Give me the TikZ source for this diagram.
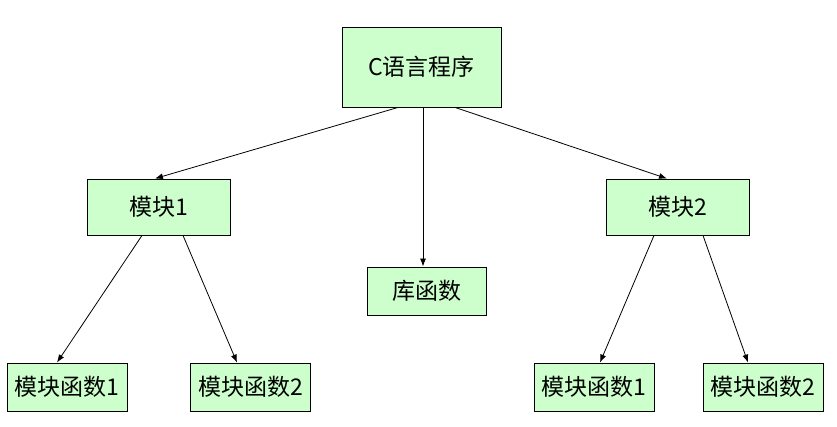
\documentclass[tikz,border=0pt]{standalone}
\usepackage{fontspec}
\usepackage{tikz}
\usetikzlibrary{arrows.meta}
\setmainfont{Noto Sans CJK SC}
\definecolor{boxgreen}{HTML}{CCFFCC}
\tikzset{
  box/.style={draw=black, fill=boxgreen, line width=0.9pt, inner sep=0pt, align=center, font=\fontsize{23}{25}\selectfont},
  topbox/.style={box, minimum width=159pt, minimum height=80pt},
  modbox/.style={box, minimum width=143pt, minimum height=56pt},
  funcbox/.style={box, minimum width=120pt, minimum height=48pt},
  arrow/.style={-{Latex[length=8pt,width=6pt]}, line width=0.8pt}
}
\begin{document}
\begin{tikzpicture}[x=1pt, y=-1pt]
\useasboundingbox (0,0) rectangle (837,426);
% boxes
\node[topbox] (prog) at (421.5,67) {C语言程序};
\node[modbox] (modA) at (158.5,207) {模块1};
\node[modbox] (modB) at (677.5,207) {模块2};
\node[funcbox, minimum width=119pt] (lib) at (426.5,291) {库函数};
\node[funcbox] (fA1) at (67,387) {模块函数1};
\node[funcbox] (fA2) at (250.5,387) {模块函数2};
\node[funcbox] (fB1) at (594,387) {模块函数1};
\node[funcbox] (fB2) at (763,387) {模块函数2};
% arrows
\draw[arrow] ([xshift=-23.5pt]prog.south) -- ([xshift=-3.5pt]modA.north);
\draw[arrow] ([xshift=1.5pt]prog.south) -- ([xshift=-3.5pt]lib.north);
\draw[arrow] ([xshift=33.5pt]prog.south) -- ([xshift=-10.5pt]modB.north);
\draw[arrow] ([xshift=-16.5pt]modA.south) -- ([xshift=-10pt]fA1.north);
\draw[arrow] ([xshift=24.5pt]modA.south) -- ([xshift=-13.5pt]fA2.north);
\draw[arrow] ([xshift=-23.5pt]modB.south) -- ([xshift=6pt]fB1.north);
\draw[arrow] ([xshift=25.5pt]modB.south) -- ([xshift=-15pt]fB2.north);
\end{tikzpicture}
\end{document}
